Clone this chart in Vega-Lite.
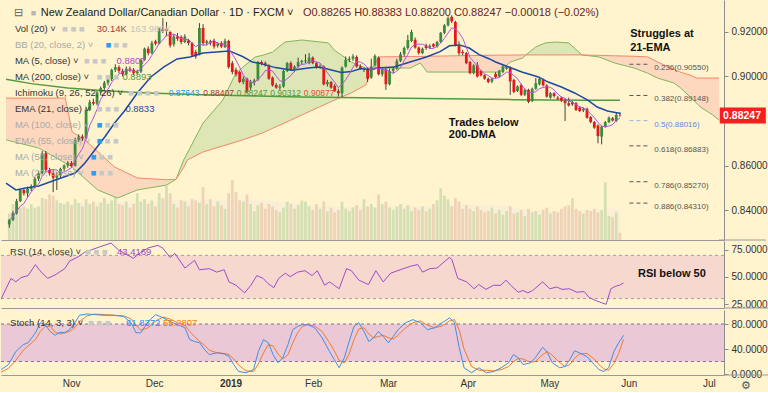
{
"$schema": "https://vega.github.io/schema/vega-lite/v6.json",
"background": "#fff4ce",
"padding": 0,
"spacing": 0,
"config": {"view": {"stroke": null}, "font": "Liberation Sans", "axis": {"grid": false, "labelOverlap": false, "labelBound": false}},
"datasets": {
"bars": [
{"i":-18,"o":0.8335,"h":0.8360,"l":0.8320,"c":0.8355,"v":110},
{"i":-17,"o":0.8355,"h":0.8395,"l":0.8350,"c":0.8385,"v":150},
{"i":-16,"o":0.8385,"h":0.8450,"l":0.8380,"c":0.8440,"v":120},
{"i":-15,"o":0.8440,"h":0.8495,"l":0.8435,"c":0.8490,"v":135},
{"i":-14,"o":0.8490,"h":0.8500,"l":0.8465,"c":0.8475,"v":140},
{"i":-13,"o":0.8475,"h":0.8505,"l":0.8455,"c":0.8495,"v":130},
{"i":-12,"o":0.8495,"h":0.8515,"l":0.8485,"c":0.8505,"v":150},
{"i":-11,"o":0.8505,"h":0.8550,"l":0.8500,"c":0.8540,"v":135},
{"i":-10,"o":0.8540,"h":0.8575,"l":0.8530,"c":0.8565,"v":140},
{"i":-9,"o":0.8565,"h":0.8665,"l":0.8560,"c":0.8655,"v":175},
{"i":-8,"o":0.8655,"h":0.8665,"l":0.8570,"c":0.8580,"v":170},
{"i":-7,"o":0.8580,"h":0.8590,"l":0.8555,"c":0.8565,"v":190},
{"i":-6,"o":0.8565,"h":0.8580,"l":0.8480,"c":0.8545,"v":185},
{"i":-5,"o":0.8545,"h":0.8570,"l":0.8490,"c":0.8555,"v":165},
{"i":-4,"o":0.8555,"h":0.8590,"l":0.8545,"c":0.8585,"v":155},
{"i":-3,"o":0.8585,"h":0.8605,"l":0.8575,"c":0.8600,"v":150},
{"i":-2,"o":0.8600,"h":0.8620,"l":0.8590,"c":0.8612,"v":160},
{"i":-1,"o":0.8612,"h":0.8620,"l":0.8590,"c":0.8598,"v":145},
{"i":0,"o":0.8598,"h":0.8725,"l":0.8595,"c":0.8715,"v":170},
{"i":1,"o":0.8715,"h":0.8740,"l":0.8705,"c":0.8730,"v":155},
{"i":2,"o":0.8730,"h":0.8740,"l":0.8710,"c":0.8722,"v":140},
{"i":3,"o":0.8722,"h":0.8860,"l":0.8718,"c":0.8850,"v":170},
{"i":4,"o":0.8850,"h":0.8895,"l":0.8845,"c":0.8885,"v":150},
{"i":5,"o":0.8885,"h":0.8900,"l":0.8870,"c":0.8878,"v":160},
{"i":6,"o":0.8878,"h":0.8935,"l":0.8870,"c":0.8928,"v":140},
{"i":7,"o":0.8928,"h":0.8955,"l":0.8915,"c":0.8948,"v":155},
{"i":8,"o":0.8948,"h":0.8980,"l":0.8940,"c":0.8972,"v":175},
{"i":9,"o":0.8972,"h":0.8995,"l":0.8960,"c":0.8988,"v":150},
{"i":10,"o":0.8988,"h":0.9035,"l":0.8980,"c":0.9030,"v":165},
{"i":11,"o":0.9030,"h":0.9055,"l":0.9020,"c":0.9042,"v":195},
{"i":12,"o":0.9042,"h":0.9050,"l":0.9015,"c":0.9025,"v":150},
{"i":13,"o":0.9025,"h":0.9035,"l":0.9000,"c":0.9010,"v":145},
{"i":14,"o":0.9010,"h":0.9045,"l":0.9005,"c":0.9035,"v":160},
{"i":15,"o":0.9035,"h":0.9045,"l":0.9020,"c":0.9030,"v":135},
{"i":16,"o":0.9030,"h":0.9038,"l":0.9005,"c":0.9015,"v":150},
{"i":17,"o":0.9015,"h":0.9030,"l":0.9008,"c":0.9022,"v":195},
{"i":18,"o":0.9022,"h":0.9080,"l":0.9015,"c":0.9075,"v":160},
{"i":19,"o":0.9075,"h":0.9130,"l":0.9070,"c":0.9125,"v":170},
{"i":20,"o":0.9125,"h":0.9135,"l":0.9095,"c":0.9105,"v":150},
{"i":21,"o":0.9105,"h":0.9160,"l":0.9100,"c":0.9150,"v":165},
{"i":22,"o":0.9158,"h":0.9165,"l":0.9140,"c":0.9148,"v":140},
{"i":23,"o":0.9148,"h":0.9220,"l":0.9145,"c":0.9215,"v":195},
{"i":24,"o":0.9215,"h":0.9262,"l":0.9195,"c":0.9205,"v":175},
{"i":25,"o":0.9205,"h":0.9245,"l":0.9180,"c":0.9212,"v":225},
{"i":26,"o":0.9200,"h":0.9205,"l":0.9130,"c":0.9140,"v":195},
{"i":27,"o":0.9145,"h":0.9190,"l":0.9135,"c":0.9180,"v":150},
{"i":28,"o":0.9180,"h":0.9195,"l":0.9160,"c":0.9170,"v":135},
{"i":29,"o":0.9178,"h":0.9185,"l":0.9145,"c":0.9155,"v":165},
{"i":30,"o":0.9155,"h":0.9190,"l":0.9150,"c":0.9180,"v":160},
{"i":31,"o":0.9162,"h":0.9170,"l":0.9140,"c":0.9150,"v":140},
{"i":32,"o":0.9150,"h":0.9155,"l":0.9090,"c":0.9095,"v":170},
{"i":33,"o":0.9110,"h":0.9120,"l":0.9080,"c":0.9090,"v":165},
{"i":34,"o":0.9100,"h":0.9240,"l":0.9095,"c":0.9218,"v":155},
{"i":35,"o":0.9218,"h":0.9235,"l":0.9140,"c":0.9150,"v":220},
{"i":36,"o":0.9150,"h":0.9165,"l":0.9140,"c":0.9158,"v":150},
{"i":37,"o":0.9158,"h":0.9165,"l":0.9140,"c":0.9150,"v":170},
{"i":38,"o":0.9160,"h":0.9170,"l":0.9125,"c":0.9135,"v":140},
{"i":39,"o":0.9138,"h":0.9155,"l":0.9130,"c":0.9148,"v":160},
{"i":40,"o":0.9150,"h":0.9158,"l":0.9128,"c":0.9135,"v":145},
{"i":41,"o":0.9132,"h":0.9170,"l":0.9128,"c":0.9160,"v":130},
{"i":42,"o":0.9160,"h":0.9165,"l":0.9035,"c":0.9042,"v":195},
{"i":43,"o":0.9060,"h":0.9070,"l":0.9010,"c":0.9020,"v":250},
{"i":44,"o":0.9030,"h":0.9040,"l":0.9000,"c":0.9010,"v":200},
{"i":45,"o":0.9020,"h":0.9025,"l":0.8970,"c":0.8975,"v":165},
{"i":46,"o":0.8975,"h":0.9000,"l":0.8965,"c":0.8990,"v":160},
{"i":47,"o":0.8990,"h":0.8995,"l":0.8925,"c":0.8930,"v":190},
{"i":48,"o":0.8950,"h":0.8985,"l":0.8940,"c":0.8975,"v":150},
{"i":49,"o":0.8975,"h":0.8990,"l":0.8960,"c":0.8982,"v":120},
{"i":50,"o":0.8985,"h":0.9070,"l":0.8980,"c":0.9065,"v":145},
{"i":51,"o":0.9065,"h":0.9072,"l":0.9050,"c":0.9058,"v":155},
{"i":52,"o":0.9060,"h":0.9068,"l":0.9045,"c":0.9050,"v":130},
{"i":53,"o":0.9048,"h":0.9055,"l":0.8985,"c":0.8990,"v":150},
{"i":54,"o":0.8995,"h":0.9000,"l":0.8955,"c":0.8960,"v":140},
{"i":55,"o":0.8962,"h":0.8970,"l":0.8945,"c":0.8950,"v":125},
{"i":56,"o":0.8950,"h":0.8965,"l":0.8940,"c":0.8955,"v":115},
{"i":57,"o":0.8955,"h":0.9030,"l":0.8950,"c":0.9025,"v":135},
{"i":58,"o":0.9025,"h":0.9065,"l":0.9020,"c":0.9060,"v":160},
{"i":59,"o":0.9060,"h":0.9068,"l":0.9025,"c":0.9030,"v":150},
{"i":60,"o":0.9028,"h":0.9050,"l":0.9020,"c":0.9045,"v":130},
{"i":61,"o":0.9045,"h":0.9085,"l":0.9040,"c":0.9065,"v":145},
{"i":62,"o":0.9065,"h":0.9075,"l":0.9055,"c":0.9070,"v":165},
{"i":63,"o":0.9068,"h":0.9100,"l":0.9060,"c":0.9072,"v":160},
{"i":64,"o":0.9060,"h":0.9105,"l":0.9055,"c":0.9085,"v":140},
{"i":65,"o":0.9085,"h":0.9090,"l":0.9055,"c":0.9060,"v":125},
{"i":66,"o":0.9060,"h":0.9065,"l":0.9035,"c":0.9040,"v":150},
{"i":67,"o":0.9040,"h":0.9055,"l":0.9035,"c":0.9045,"v":130},
{"i":68,"o":0.9045,"h":0.9050,"l":0.8960,"c":0.8965,"v":160},
{"i":69,"o":0.8965,"h":0.8985,"l":0.8955,"c":0.8975,"v":120},
{"i":70,"o":0.8975,"h":0.8980,"l":0.8945,"c":0.8950,"v":135},
{"i":71,"o":0.8958,"h":0.8965,"l":0.8930,"c":0.8935,"v":115},
{"i":72,"o":0.8935,"h":0.8945,"l":0.8910,"c":0.8925,"v":125},
{"i":73,"o":0.8925,"h":0.9045,"l":0.8908,"c":0.9040,"v":160},
{"i":74,"o":0.9045,"h":0.9090,"l":0.9040,"c":0.9075,"v":130},
{"i":75,"o":0.9075,"h":0.9090,"l":0.9065,"c":0.9080,"v":120},
{"i":76,"o":0.9080,"h":0.9100,"l":0.9070,"c":0.9090,"v":135},
{"i":77,"o":0.9088,"h":0.9095,"l":0.9040,"c":0.9045,"v":145},
{"i":78,"o":0.9045,"h":0.9055,"l":0.9030,"c":0.9035,"v":125},
{"i":79,"o":0.9030,"h":0.9040,"l":0.9020,"c":0.9032,"v":170},
{"i":80,"o":0.9030,"h":0.9040,"l":0.8975,"c":0.8990,"v":140},
{"i":81,"o":0.8995,"h":0.9080,"l":0.8990,"c":0.9045,"v":150},
{"i":82,"o":0.9050,"h":0.9100,"l":0.9045,"c":0.9092,"v":135},
{"i":83,"o":0.9085,"h":0.9090,"l":0.9005,"c":0.9010,"v":190},
{"i":84,"o":0.9010,"h":0.9040,"l":0.9000,"c":0.9032,"v":150},
{"i":85,"o":0.9032,"h":0.9040,"l":0.8940,"c":0.8965,"v":160},
{"i":86,"o":0.8965,"h":0.9035,"l":0.8960,"c":0.9025,"v":135},
{"i":87,"o":0.9025,"h":0.9045,"l":0.9015,"c":0.9035,"v":125},
{"i":88,"o":0.9035,"h":0.9080,"l":0.9030,"c":0.9070,"v":140},
{"i":89,"o":0.9070,"h":0.9110,"l":0.9065,"c":0.9100,"v":150},
{"i":90,"o":0.9100,"h":0.9135,"l":0.9090,"c":0.9128,"v":130},
{"i":91,"o":0.9128,"h":0.9187,"l":0.9120,"c":0.9164,"v":145},
{"i":92,"o":0.9160,"h":0.9210,"l":0.9155,"c":0.9200,"v":120},
{"i":93,"o":0.9165,"h":0.9175,"l":0.9125,"c":0.9130,"v":135},
{"i":94,"o":0.9130,"h":0.9135,"l":0.9098,"c":0.9105,"v":125},
{"i":95,"o":0.9105,"h":0.9130,"l":0.9100,"c":0.9125,"v":140},
{"i":96,"o":0.9140,"h":0.9148,"l":0.9120,"c":0.9128,"v":120},
{"i":97,"o":0.9130,"h":0.9145,"l":0.9125,"c":0.9138,"v":130},
{"i":98,"o":0.9145,"h":0.9150,"l":0.9130,"c":0.9135,"v":150},
{"i":99,"o":0.9135,"h":0.9160,"l":0.9130,"c":0.9155,"v":165},
{"i":100,"o":0.9155,"h":0.9200,"l":0.9150,"c":0.9196,"v":215},
{"i":101,"o":0.9196,"h":0.9235,"l":0.9190,"c":0.9230,"v":185},
{"i":102,"o":0.9230,"h":0.9270,"l":0.9225,"c":0.9262,"v":170},
{"i":103,"o":0.9268,"h":0.9275,"l":0.9240,"c":0.9248,"v":140},
{"i":104,"o":0.9245,"h":0.9250,"l":0.9135,"c":0.9140,"v":175},
{"i":105,"o":0.9140,"h":0.9158,"l":0.9095,"c":0.9105,"v":160},
{"i":106,"o":0.9110,"h":0.9120,"l":0.9095,"c":0.9105,"v":130},
{"i":107,"o":0.9105,"h":0.9110,"l":0.9055,"c":0.9060,"v":145},
{"i":108,"o":0.9065,"h":0.9070,"l":0.9010,"c":0.9015,"v":130},
{"i":109,"o":0.9015,"h":0.9055,"l":0.9010,"c":0.9050,"v":120},
{"i":110,"o":0.9050,"h":0.9065,"l":0.8995,"c":0.9000,"v":140},
{"i":111,"o":0.9025,"h":0.9030,"l":0.9000,"c":0.9005,"v":125},
{"i":112,"o":0.9005,"h":0.9010,"l":0.8985,"c":0.8990,"v":115},
{"i":113,"o":0.8990,"h":0.8995,"l":0.8970,"c":0.8975,"v":120},
{"i":114,"o":0.8978,"h":0.8995,"l":0.8970,"c":0.8990,"v":135},
{"i":115,"o":0.9012,"h":0.9020,"l":0.8990,"c":0.8998,"v":110},
{"i":116,"o":0.9000,"h":0.9030,"l":0.8995,"c":0.9025,"v":125},
{"i":117,"o":0.9020,"h":0.9050,"l":0.9015,"c":0.9045,"v":105},
{"i":118,"o":0.9035,"h":0.9048,"l":0.9030,"c":0.9042,"v":120},
{"i":119,"o":0.9038,"h":0.9045,"l":0.8917,"c":0.8978,"v":140},
{"i":120,"o":0.8984,"h":0.8990,"l":0.8925,"c":0.8930,"v":110},
{"i":121,"o":0.8935,"h":0.8960,"l":0.8930,"c":0.8955,"v":115},
{"i":122,"o":0.8962,"h":0.8968,"l":0.8912,"c":0.8918,"v":125},
{"i":123,"o":0.8918,"h":0.8945,"l":0.8912,"c":0.8940,"v":100},
{"i":124,"o":0.8940,"h":0.8945,"l":0.8880,"c":0.8886,"v":130},
{"i":125,"o":0.8890,"h":0.8950,"l":0.8885,"c":0.8945,"v":115},
{"i":126,"o":0.8945,"h":0.8993,"l":0.8940,"c":0.8970,"v":120},
{"i":127,"o":0.8965,"h":0.8998,"l":0.8960,"c":0.8990,"v":105},
{"i":128,"o":0.8985,"h":0.8990,"l":0.8955,"c":0.8960,"v":125},
{"i":129,"o":0.8960,"h":0.8965,"l":0.8905,"c":0.8910,"v":135},
{"i":130,"o":0.8905,"h":0.8930,"l":0.8900,"c":0.8925,"v":110},
{"i":131,"o":0.8925,"h":0.8930,"l":0.8905,"c":0.8912,"v":120},
{"i":132,"o":0.8905,"h":0.8912,"l":0.8895,"c":0.8900,"v":115},
{"i":133,"o":0.8905,"h":0.8910,"l":0.8885,"c":0.8892,"v":130},
{"i":134,"o":0.8892,"h":0.8900,"l":0.8800,"c":0.8880,"v":140},
{"i":135,"o":0.8880,"h":0.8905,"l":0.8865,"c":0.8870,"v":145},
{"i":136,"o":0.8885,"h":0.8890,"l":0.8868,"c":0.8875,"v":175},
{"i":137,"o":0.8880,"h":0.8885,"l":0.8845,"c":0.8850,"v":130},
{"i":138,"o":0.8860,"h":0.8865,"l":0.8840,"c":0.8845,"v":120},
{"i":139,"o":0.8848,"h":0.8860,"l":0.8840,"c":0.8855,"v":110},
{"i":140,"o":0.8855,"h":0.8860,"l":0.8810,"c":0.8815,"v":125},
{"i":141,"o":0.8818,"h":0.8822,"l":0.8790,"c":0.8795,"v":120},
{"i":142,"o":0.8795,"h":0.8800,"l":0.8765,"c":0.8770,"v":130},
{"i":143,"o":0.8780,"h":0.8785,"l":0.8700,"c":0.8732,"v":115},
{"i":144,"o":0.8730,"h":0.8780,"l":0.8695,"c":0.8775,"v":125},
{"i":145,"o":0.8775,"h":0.8800,"l":0.8770,"c":0.8795,"v":240},
{"i":146,"o":0.8795,"h":0.8820,"l":0.8790,"c":0.8815,"v":100},
{"i":147,"o":0.8812,"h":0.8818,"l":0.8798,"c":0.8802,"v":95},
{"i":148,"o":0.8800,"h":0.8840,"l":0.8795,"c":0.88265,"v":115},
{"i":149,"o":0.88265,"h":0.88383,"l":0.88200,"c":0.88247,"v":30}
],
"cloud": [
{"i":-18.9,"a":0.8715,"b":0.8903,"seg":1,"kind":"bear"},
{"i":-10,"a":0.8679,"b":0.8903,"seg":1,"kind":"bear"},
{"i":-2.7,"a":0.8611,"b":0.8903,"seg":1,"kind":"bear"},
{"i":-0.8,"a":0.8593,"b":0.8751,"seg":1,"kind":"bear"},
{"i":2.7,"a":0.8541,"b":0.8715,"seg":1,"kind":"bear"},
{"i":6.2,"a":0.8490,"b":0.8662,"seg":1,"kind":"bear"},
{"i":10.8,"a":0.8459,"b":0.8593,"seg":1,"kind":"bear"},
{"i":11.6,"a":0.8454,"b":0.8587,"seg":1,"kind":"bear"},
{"i":17,"a":0.8490,"b":0.8544,"seg":1,"kind":"bear"},
{"i":25,"a":0.8512,"b":0.8536,"seg":1,"kind":"bear"},
{"i":27.6,"a":0.8538,"b":0.8538,"seg":1,"kind":"bear"},
{"i":27.6,"a":0.8538,"b":0.8538,"seg":2,"kind":"bull"},
{"i":29.7,"a":0.8625,"b":0.8591,"seg":2,"kind":"bull"},
{"i":30.7,"a":0.8656,"b":0.8625,"seg":2,"kind":"bull"},
{"i":35,"a":0.8791,"b":0.8661,"seg":2,"kind":"bull"},
{"i":40.4,"a":0.8894,"b":0.8688,"seg":2,"kind":"bull"},
{"i":44,"a":0.9016,"b":0.8706,"seg":2,"kind":"bull"},
{"i":45.8,"a":0.9041,"b":0.8715,"seg":2,"kind":"bull"},
{"i":49.3,"a":0.9088,"b":0.8735,"seg":2,"kind":"bull"},
{"i":51.2,"a":0.9095,"b":0.8746,"seg":2,"kind":"bull"},
{"i":54,"a":0.9110,"b":0.8767,"seg":2,"kind":"bull"},
{"i":57.4,"a":0.9155,"b":0.8792,"seg":2,"kind":"bull"},
{"i":62,"a":0.9164,"b":0.8827,"seg":2,"kind":"bull"},
{"i":69.3,"a":0.9151,"b":0.8882,"seg":2,"kind":"bull"},
{"i":70.9,"a":0.9118,"b":0.8894,"seg":2,"kind":"bull"},
{"i":72.8,"a":0.9097,"b":0.8907,"seg":2,"kind":"bull"},
{"i":75.5,"a":0.9065,"b":0.8926,"seg":2,"kind":"bull"},
{"i":79.5,"a":0.9038,"b":0.8962,"seg":2,"kind":"bull"},
{"i":81.4,"a":0.9038,"b":0.9038,"seg":2,"kind":"bull"},
{"i":81.4,"a":0.9038,"b":0.9038,"seg":3,"kind":"bear"},
{"i":83,"a":0.9038,"b":0.9088,"seg":3,"kind":"bear"},
{"i":91.7,"a":0.9038,"b":0.9090,"seg":3,"kind":"bear"},
{"i":94.4,"a":0.9061,"b":0.9090,"seg":3,"kind":"bear"},
{"i":96.3,"a":0.9020,"b":0.9091,"seg":3,"kind":"bear"},
{"i":116,"a":0.9020,"b":0.9096,"seg":3,"kind":"bear"},
{"i":119,"a":0.9065,"b":0.9096,"seg":3,"kind":"bear"},
{"i":122.4,"a":0.9083,"b":0.9097,"seg":3,"kind":"bear"},
{"i":123.3,"a":0.9097,"b":0.9097,"seg":3,"kind":"bear"},
{"i":123.3,"a":0.9097,"b":0.9097,"seg":4,"kind":"bull"},
{"i":126,"a":0.9133,"b":0.9097,"seg":4,"kind":"bull"},
{"i":128.6,"a":0.9151,"b":0.9097,"seg":4,"kind":"bull"},
{"i":131.3,"a":0.9155,"b":0.9097,"seg":4,"kind":"bull"},
{"i":135,"a":0.9151,"b":0.9097,"seg":4,"kind":"bull"},
{"i":138.6,"a":0.9097,"b":0.9097,"seg":4,"kind":"bull"},
{"i":138.6,"a":0.9097,"b":0.9097,"seg":5,"kind":"bear"},
{"i":143.2,"a":0.9088,"b":0.9095,"seg":5,"kind":"bear"},
{"i":147.5,"a":0.9061,"b":0.9093,"seg":5,"kind":"bear"},
{"i":152.9,"a":0.9038,"b":0.9091,"seg":5,"kind":"bear"},
{"i":156.6,"a":0.9015,"b":0.9088,"seg":5,"kind":"bear"},
{"i":159.3,"a":0.8993,"b":0.9065,"seg":5,"kind":"bear"},
{"i":163.7,"a":0.8971,"b":0.9033,"seg":5,"kind":"bear"},
{"i":165.5,"a":0.8950,"b":0.9020,"seg":5,"kind":"bear"},
{"i":168.2,"a":0.8908,"b":0.9006,"seg":5,"kind":"bear"},
{"i":170,"a":0.8880,"b":0.8993,"seg":5,"kind":"bear"},
{"i":171,"a":0.8863,"b":0.8993,"seg":5,"kind":"bear"},
{"i":174.4,"a":0.8827,"b":0.8993,"seg":5,"kind":"bear"},
{"i":176.1,"a":0.8804,"b":0.8993,"seg":5,"kind":"bear"}
],
"ema": [
{"i":-18.9,"v":0.8521},{"i":-16.2,"v":0.8490},{"i":-13.5,"v":0.8499},{"i":-9.9,"v":0.8508},{"i":-5.4,"v":0.8535},{"i":0,"v":0.8566},{"i":2.7,"v":0.8611},{"i":5.4,"v":0.8670},{"i":8.1,"v":0.8728},{"i":10.8,"v":0.8791},{"i":13.5,"v":0.8845},{"i":17,"v":0.8926},{"i":20.7,"v":0.8998},{"i":24.3,"v":0.9043},{"i":27.9,"v":0.9079},{"i":31.4,"v":0.9088},{"i":35,"v":0.9106},{"i":38.6,"v":0.9110},{"i":42.2,"v":0.9115},{"i":45.8,"v":0.9090},{"i":48.5,"v":0.9065},{"i":50.3,"v":0.9060},{"i":54.8,"v":0.9040},{"i":59.3,"v":0.9028},{"i":63.8,"v":0.9038},{"i":66.5,"v":0.9043},{"i":69,"v":0.9034},{"i":72.8,"v":0.9018},{"i":75.5,"v":0.9022},{"i":78.2,"v":0.9036},{"i":80.9,"v":0.9030},{"i":82.7,"v":0.9038},{"i":87.2,"v":0.9043},{"i":91.6,"v":0.9065},{"i":96.1,"v":0.9088},{"i":99.8,"v":0.9112},{"i":102.4,"v":0.9138},{"i":105.1,"v":0.9142},{"i":107.8,"v":0.9128},{"i":110.5,"v":0.9098},{"i":113.2,"v":0.9080},{"i":115,"v":0.9065},{"i":118.6,"v":0.9043},{"i":122.2,"v":0.9020},{"i":126.7,"v":0.8998},{"i":129.4,"v":0.8975},{"i":133,"v":0.8953},{"i":136.6,"v":0.8926},{"i":140.2,"v":0.8894},{"i":142.8,"v":0.8863},{"i":145.6,"v":0.8845},{"i":149.2,"v":0.8834}
],
"ma200": [
{"i":-18.9,"v":0.8988},{"i":-12,"v":0.8968},{"i":-2,"v":0.8948},{"i":8,"v":0.8936},{"i":20,"v":0.8926},{"i":35,"v":0.8918},{"i":50,"v":0.8912},{"i":62,"v":0.8908},{"i":84,"v":0.8903},{"i":102,"v":0.8900},{"i":120,"v":0.8896},{"i":140,"v":0.8893},{"i":149,"v":0.8893}
],
"rsi": [
{"i":-18.9,"v":29.5},{"i":-16.2,"v":48.7},{"i":-14.9,"v":45.5},{"i":-13.5,"v":49.4},{"i":-11.6,"v":51.3},{"i":-9.6,"v":61.5},{"i":-8.4,"v":55.8},{"i":-6.3,"v":48.7},{"i":-4.3,"v":51.9},{"i":-1.7,"v":57.7},{"i":-0.4,"v":64.7},{"i":1.6,"v":68},{"i":3.6,"v":72.8},{"i":7.5,"v":77.6},{"i":10.8,"v":81.4},{"i":12.8,"v":75},{"i":14.8,"v":71.2},{"i":16.8,"v":67.3},{"i":18.8,"v":72.8},{"i":20.8,"v":76.9},{"i":23.4,"v":79.2},{"i":24.7,"v":76.9},{"i":26.7,"v":68},{"i":28,"v":71.8},{"i":30.7,"v":58.3},{"i":33.3,"v":65.4},{"i":34.6,"v":56.7},{"i":37.3,"v":57.7},{"i":39.3,"v":54.5},{"i":41.3,"v":56.7},{"i":42.6,"v":45.5},{"i":44.5,"v":42.3},{"i":46.8,"v":35.3},{"i":48.5,"v":42.3},{"i":50.1,"v":51.3},{"i":51.8,"v":48.7},{"i":53.1,"v":43.9},{"i":54.7,"v":40.1},{"i":56,"v":48.7},{"i":57.8,"v":53.5},{"i":59.1,"v":50.3},{"i":61.1,"v":54.5},{"i":63.1,"v":55.8},{"i":65,"v":51.3},{"i":66.4,"v":55.8},{"i":68.4,"v":42.3},{"i":69.7,"v":45.5},{"i":71,"v":42.3},{"i":72.3,"v":39.1},{"i":74.3,"v":57.7},{"i":75.6,"v":55.8},{"i":77.6,"v":47.1},{"i":80.2,"v":43},{"i":82.2,"v":55.8},{"i":84.2,"v":45.5},{"i":86.2,"v":53.5},{"i":88.8,"v":56.7},{"i":91.5,"v":59.9},{"i":93.5,"v":61.5},{"i":94.8,"v":54.5},{"i":96.8,"v":57.7},{"i":98.7,"v":58.3},{"i":102,"v":68},{"i":102.7,"v":66.3},{"i":104.3,"v":48.7},{"i":106.7,"v":45.5},{"i":108.7,"v":39.1},{"i":110,"v":43},{"i":111.9,"v":38.5},{"i":113.9,"v":42.3},{"i":115.9,"v":42.3},{"i":117.3,"v":47.1},{"i":118.6,"v":42.3},{"i":120.6,"v":35.9},{"i":121.9,"v":37.5},{"i":123.2,"v":35.3},{"i":124.5,"v":37.5},{"i":127.2,"v":45.5},{"i":129.1,"v":39.1},{"i":131,"v":40.7},{"i":132.4,"v":38.5},{"i":134.4,"v":39.1},{"i":136.4,"v":35.9},{"i":138.4,"v":36.5},{"i":139.7,"v":31.1},{"i":141.7,"v":27.9},{"i":143,"v":26.3},{"i":144.3,"v":24.7},{"i":145.6,"v":39.1},{"i":147,"v":41.7},{"i":147.9,"v":42.3},{"i":149,"v":44.5}
],
"stoch": [
{"i":-18.9,"k":7,"d":3},{"i":-16.9,"k":15,"d":9},{"i":-14.9,"k":36,"d":22},{"i":-12.9,"k":47,"d":38},{"i":-11.6,"k":50,"d":45},{"i":-9.6,"k":66,"d":55},{"i":-8.3,"k":82,"d":68},{"i":-7,"k":79,"d":76},{"i":-5.6,"k":68,"d":76},{"i":-4.3,"k":62,"d":67},{"i":-3,"k":67,"d":64},{"i":-1.7,"k":66,"d":66},{"i":-0.4,"k":71,"d":68},{"i":1,"k":82,"d":74},{"i":2.3,"k":94,"d":84},{"i":4.3,"k":96,"d":93},{"i":6.3,"k":95,"d":96},{"i":8.9,"k":94,"d":95},{"i":11.5,"k":94,"d":94},{"i":14.2,"k":92,"d":93},{"i":16.2,"k":82,"d":88},{"i":17.5,"k":66,"d":78},{"i":18.8,"k":66,"d":70},{"i":20.8,"k":84,"d":74},{"i":22.8,"k":95,"d":85},{"i":24.8,"k":90,"d":91},{"i":26.7,"k":84,"d":88},{"i":28.7,"k":79,"d":82},{"i":30.7,"k":74,"d":78},{"i":32,"k":55,"d":68},{"i":33.3,"k":52,"d":60},{"i":34.7,"k":50,"d":52},{"i":36,"k":39,"d":46},{"i":37.3,"k":31,"d":38},{"i":39.3,"k":34,"d":34},{"i":41.3,"k":32,"d":33},{"i":42.6,"k":28,"d":31},{"i":43.9,"k":15,"d":24},{"i":45.2,"k":4,"d":14},{"i":47.2,"k":2,"d":5},{"i":49.2,"k":7,"d":4},{"i":50.5,"k":36,"d":16},{"i":51.9,"k":55,"d":34},{"i":53.2,"k":50,"d":47},{"i":54.5,"k":31,"d":45},{"i":55.8,"k":18,"d":32},{"i":57.1,"k":26,"d":24},{"i":58.5,"k":47,"d":31},{"i":59.8,"k":71,"d":50},{"i":61.1,"k":76,"d":66},{"i":62.4,"k":79,"d":76},{"i":63.8,"k":79,"d":79},{"i":65.7,"k":74,"d":77},{"i":67.7,"k":58,"d":68},{"i":69.7,"k":36,"d":50},{"i":71,"k":23,"d":37},{"i":72.3,"k":10,"d":22},{"i":73.7,"k":26,"d":18},{"i":75,"k":52,"d":32},{"i":76.3,"k":76,"d":55},{"i":77.6,"k":82,"d":72},{"i":79,"k":68,"d":74},{"i":80.3,"k":52,"d":64},{"i":81.6,"k":58,"d":58},{"i":82.9,"k":68,"d":60},{"i":84.2,"k":60,"d":62},{"i":85.6,"k":50,"d":58},{"i":86.9,"k":60,"d":56},{"i":88.2,"k":71,"d":62},{"i":90.2,"k":82,"d":74},{"i":92.2,"k":87,"d":82},{"i":94.2,"k":82,"d":85},{"i":96.1,"k":71,"d":78},{"i":98.1,"k":74,"d":74},{"i":100.1,"k":82,"d":77},{"i":102.1,"k":90,"d":85},{"i":103.4,"k":82,"d":87},{"i":104.7,"k":42,"d":70},{"i":106,"k":10,"d":40},{"i":108,"k":2,"d":12},{"i":110,"k":10,"d":6},{"i":112,"k":2,"d":6},{"i":114,"k":4,"d":5},{"i":116,"k":10,"d":7},{"i":118,"k":18,"d":12},{"i":119.3,"k":31,"d":20},{"i":120.6,"k":26,"d":25},{"i":121.9,"k":15,"d":24},{"i":123.9,"k":18,"d":19},{"i":125.2,"k":26,"d":20},{"i":127.2,"k":43,"d":31},{"i":128.5,"k":34,"d":36},{"i":129.8,"k":18,"d":30},{"i":131.8,"k":10,"d":18},{"i":133.2,"k":12,"d":12},{"i":134.5,"k":23,"d":15},{"i":135.8,"k":37,"d":25},{"i":137.1,"k":34,"d":32},{"i":139.1,"k":28,"d":33},{"i":141.1,"k":15,"d":24},{"i":142.4,"k":7,"d":15},{"i":143.7,"k":4,"d":8},{"i":145,"k":10,"d":6},{"i":146.4,"k":36,"d":17},{"i":147.7,"k":50,"d":33},{"i":149,"k":61.8,"d":55.3}
],
"fib": [
{"p":0.90550,"lab":"0.236(0.90550)","b":0},
{"p":0.89148,"lab":"0.382(0.89148)","b":0},
{"p":0.88016,"lab":"0.5(0.88016)","b":1},
{"p":0.86883,"lab":"0.618(0.86883)","b":0},
{"p":0.85270,"lab":"0.786(0.85270)","b":0},
{"p":0.84310,"lab":"0.886(0.84310)","b":0}
]
},
"vconcat": [
{
"width": 723, "height": 240,
"resolve": {"scale": {"y": "independent"}},
"layer": [
{
"data": {"name": "bars"},
"transform": [{"window": [{"op": "mean", "field": "v", "as": "vma"}], "frame": [-19, 0], "sort": [{"field": "i"}]}],
"layer": [
{"mark": {"type": "area", "color": "#f9eed6", "clip": true},
"encoding": {
"x": {"field": "i", "type": "quantitative", "scale": {"domain": [-18.9, 176.1], "nice": false, "zero": false}, "axis": {"labels": false, "ticks": false, "domain": true, "domainColor": "#9a9a9a", "grid": false, "title": null}},
"y": {"field": "vma", "type": "quantitative", "scale": {"domain": [0, 1000], "nice": false}, "axis": null}}},
{"mark": {"type": "bar", "size": 2.8, "clip": true},
"encoding": {
"x": {"field": "i", "type": "quantitative", "scale": {"domain": [-18.9, 176.1], "nice": false, "zero": false}},
"y": {"field": "v", "type": "quantitative", "scale": {"domain": [0, 1000], "nice": false}, "axis": null},
"color": {"condition": {"test": "datum.c >= datum.o", "value": "#d4e0b1"}, "value": "#efd3b6"}}}
]
},
{
"data": {"values": [{}]},
"layer": [
{"data": {"name": "cloud"}, "mark": {"type": "area", "clip": true},
"encoding": {
"x": {"field": "i", "type": "quantitative", "scale": {"domain": [-18.9, 176.1], "nice": false, "zero": false}},
"y": {"field": "a", "type": "quantitative", "scale": {"domain": [0.82652, 0.93438], "nice": false, "zero": false}, "axis": {"orient": "right", "values": [0.84, 0.86, 0.9, 0.92], "tickCount": 10, "format": ".5f", "title": null, "grid": false, "tickSize": 4, "labelPadding": 3, "labelFontSize": 10, "labelColor": "#333333", "labelOverlap": false, "domain": true, "domainColor": "#8c8c8c", "ticks": true, "tickColor": "#8c8c8c", "labels": true}},
"y2": {"field": "b"},
"detail": {"field": "seg", "type": "nominal"},
"color": {"condition": {"test": "datum.kind == 'bull'", "value": "#dde6b4"}, "value": "#fdd8be"}}},
{"data": {"name": "cloud"}, "mark": {"type": "line", "color": "#80b65e", "strokeWidth": 1, "clip": true},
"encoding": {
"x": {"field": "i", "type": "quantitative", "scale": {"domain": [-18.9, 176.1], "nice": false, "zero": false}},
"y": {"field": "a", "type": "quantitative", "scale": {"domain": [0.82652, 0.93438], "nice": false, "zero": false}}}},
{"data": {"name": "cloud"}, "mark": {"type": "line", "color": "#f3866c", "strokeWidth": 1, "clip": true},
"encoding": {
"x": {"field": "i", "type": "quantitative", "scale": {"domain": [-18.9, 176.1], "nice": false, "zero": false}},
"y": {"field": "b", "type": "quantitative", "scale": {"domain": [0.82652, 0.93438], "nice": false, "zero": false}}}},
{"data": {"name": "ma200"}, "mark": {"type": "line", "color": "#4f9b3f", "strokeWidth": 1.5, "clip": true},
"encoding": {
"x": {"field": "i", "type": "quantitative", "scale": {"domain": [-18.9, 176.1], "nice": false, "zero": false}},
"y": {"field": "v", "type": "quantitative", "scale": {"domain": [0.82652, 0.93438], "nice": false, "zero": false}}}},
{"data": {"name": "bars"}, "mark": {"type": "rule", "color": "#404040", "strokeWidth": 1, "clip": true},
"encoding": {
"x": {"field": "i", "type": "quantitative", "scale": {"domain": [-18.9, 176.1], "nice": false, "zero": false}},
"y": {"field": "l", "type": "quantitative", "scale": {"domain": [0.82652, 0.93438], "nice": false, "zero": false}},
"y2": {"field": "h"}}},
{"data": {"name": "bars"}, "mark": {"type": "bar", "size": 2.8, "clip": true},
"encoding": {
"x": {"field": "i", "type": "quantitative", "scale": {"domain": [-18.9, 176.1], "nice": false, "zero": false}},
"y": {"field": "o", "type": "quantitative", "scale": {"domain": [0.82652, 0.93438], "nice": false, "zero": false}},
"y2": {"field": "c"},
"color": {"condition": {"test": "datum.c >= datum.o", "value": "#3a8d3a"}, "value": "#e8171b"}}},
{"data": {"name": "ema"}, "mark": {"type": "line", "color": "#1f48a5", "strokeWidth": 1.5, "clip": true},
"encoding": {
"x": {"field": "i", "type": "quantitative", "scale": {"domain": [-18.9, 176.1], "nice": false, "zero": false}},
"y": {"field": "v", "type": "quantitative", "scale": {"domain": [0.82652, 0.93438], "nice": false, "zero": false}}}},
{"data": {"name": "bars"},
"transform": [{"window": [{"op": "mean", "field": "c", "as": "ma5"}], "frame": [-4, 0], "sort": [{"field": "i"}]}],
"mark": {"type": "line", "color": "#b452e0", "strokeWidth": 1, "clip": true},
"encoding": {
"x": {"field": "i", "type": "quantitative", "scale": {"domain": [-18.9, 176.1], "nice": false, "zero": false}},
"y": {"field": "ma5", "type": "quantitative", "scale": {"domain": [0.82652, 0.93438], "nice": false, "zero": false}}}},
{"data": {"name": "fib"}, "mark": {"type": "rule", "strokeDash": [4, 3], "strokeWidth": 1},
"encoding": {
"x": {"datum": 151.6, "type": "quantitative", "scale": {"domain": [-18.9, 176.1], "nice": false, "zero": false}},
"x2": {"datum": 157.2},
"y": {"field": "p", "type": "quantitative", "scale": {"domain": [0.82652, 0.93438], "nice": false, "zero": false}},
"color": {"condition": {"test": "datum.b == 1", "value": "#8fb5e6"}, "value": "#555555"}}},
{"data": {"name": "fib"}, "mark": {"type": "text", "align": "left", "baseline": "top", "fontSize": 8},
"encoding": {
"x": {"datum": 158.4, "type": "quantitative", "scale": {"domain": [-18.9, 176.1], "nice": false, "zero": false}},
"y": {"field": "p", "type": "quantitative", "scale": {"domain": [0.82652, 0.93438], "nice": false, "zero": false}},
"text": {"field": "lab"},
"color": {"condition": {"test": "datum.b == 1", "value": "#5b8fd6"}, "value": "#555555"}}},
{"mark": {"type": "rule", "color": "#9a9a9a", "strokeWidth": 1},
"encoding": {"x": {"datum": 176.1, "type": "quantitative"}, "x2": {"datum": 188.9}, "y": {"datum": 0.82652, "type": "quantitative"}}},
{"mark": {"type": "text", "text": "Struggles at", "align": "left", "baseline": "middle", "fontSize": 11, "fontWeight": "bold", "color": "#111111"},
"encoding": {"x": {"datum": 151.8, "type": "quantitative"}, "y": {"datum": 0.91888, "type": "quantitative"}}},
{"mark": {"type": "text", "text": "21-EMA", "align": "left", "baseline": "middle", "fontSize": 11, "fontWeight": "bold", "color": "#111111"},
"encoding": {"x": {"datum": 151.8, "type": "quantitative"}, "y": {"datum": 0.91303, "type": "quantitative"}}},
{"mark": {"type": "text", "text": "Trades below", "align": "left", "baseline": "middle", "fontSize": 11, "fontWeight": "bold", "color": "#111111"},
"encoding": {"x": {"datum": 102.2, "type": "quantitative"}, "y": {"datum": 0.87932, "type": "quantitative"}}},
{"mark": {"type": "text", "text": "200-DMA", "align": "left", "baseline": "middle", "fontSize": 11, "fontWeight": "bold", "color": "#111111"},
"encoding": {"x": {"datum": 102.2, "type": "quantitative"}, "y": {"datum": 0.87349, "type": "quantitative"}}},
{"mark": {"type": "text", "text": "⊟", "align": "left", "baseline": "middle", "fontSize": 11, "color": "#666666"},
"encoding": {"x": {"datum": -16.6, "type": "quantitative"}, "y": {"datum": 0.92854, "type": "quantitative"}}},
{"mark": {"type": "text", "text": "■", "align": "left", "baseline": "middle", "fontSize": 9, "color": "#b5b5b5"},
"encoding": {"x": {"datum": -12.1, "type": "quantitative"}, "y": {"datum": 0.92854, "type": "quantitative"}}},
{"mark": {"type": "text", "text": "New Zealand Dollar/Canadian Dollar · 1D · FXCM ˅", "align": "left", "baseline": "middle", "fontSize": 11, "color": "#222222"},
"encoding": {"x": {"datum": -9.4, "type": "quantitative"}, "y": {"datum": 0.92854, "type": "quantitative"}}},
{"mark": {"type": "text", "text": "O0.88265 H0.88383 L0.88200 C0.88247 −0.00018 (−0.02%)", "align": "left", "baseline": "middle", "fontSize": 11, "color": "#6a2525"},
"encoding": {"x": {"datum": 62.3, "type": "quantitative"}, "y": {"datum": 0.92854, "type": "quantitative"}}},
{"mark": {"type": "text", "text": "Vol (20) ˅", "align": "left", "baseline": "middle", "fontSize": 9.5, "color": "#333333"},
"encoding": {"x": {"datum": -16.45, "type": "quantitative"}, "y": {"datum": 0.92135, "type": "quantitative"}}},
{"mark": {"type": "text", "text": "BB (20, close, 2) ˅", "align": "left", "baseline": "middle", "fontSize": 9.5, "color": "#a8a8a8"},
"encoding": {"x": {"datum": -16.45, "type": "quantitative"}, "y": {"datum": 0.91416, "type": "quantitative"}}},
{"mark": {"type": "text", "text": "MA (5, close) ˅", "align": "left", "baseline": "middle", "fontSize": 9.5, "color": "#333333"},
"encoding": {"x": {"datum": -16.45, "type": "quantitative"}, "y": {"datum": 0.90696, "type": "quantitative"}}},
{"mark": {"type": "text", "text": "MA (200, close) ˅", "align": "left", "baseline": "middle", "fontSize": 9.5, "color": "#333333"},
"encoding": {"x": {"datum": -16.45, "type": "quantitative"}, "y": {"datum": 0.89977, "type": "quantitative"}}},
{"mark": {"type": "text", "text": "Ichimoku (9, 26, 52, 26) ˅", "align": "left", "baseline": "middle", "fontSize": 9.5, "color": "#333333"},
"encoding": {"x": {"datum": -16.45, "type": "quantitative"}, "y": {"datum": 0.89258, "type": "quantitative"}}},
{"mark": {"type": "text", "text": "EMA (21, close) ˅", "align": "left", "baseline": "middle", "fontSize": 9.5, "color": "#333333"},
"encoding": {"x": {"datum": -16.45, "type": "quantitative"}, "y": {"datum": 0.88539, "type": "quantitative"}}},
{"mark": {"type": "text", "text": "MA (100, close) ˅", "align": "left", "baseline": "middle", "fontSize": 9.5, "color": "#a8a8a8"},
"encoding": {"x": {"datum": -16.45, "type": "quantitative"}, "y": {"datum": 0.87820, "type": "quantitative"}}},
{"mark": {"type": "text", "text": "EMA (55, close) ˅", "align": "left", "baseline": "middle", "fontSize": 9.5, "color": "#a8a8a8"},
"encoding": {"x": {"datum": -16.45, "type": "quantitative"}, "y": {"datum": 0.87101, "type": "quantitative"}}},
{"mark": {"type": "text", "text": "MA (50, close) ˅", "align": "left", "baseline": "middle", "fontSize": 9.5, "color": "#a8a8a8"},
"encoding": {"x": {"datum": -16.45, "type": "quantitative"}, "y": {"datum": 0.86381, "type": "quantitative"}}},
{"mark": {"type": "text", "text": "MA (20, close) ˅", "align": "left", "baseline": "middle", "fontSize": 9.5, "color": "#a8a8a8"},
"encoding": {"x": {"datum": -16.45, "type": "quantitative"}, "y": {"datum": 0.85662, "type": "quantitative"}}},
{"mark": {"type": "text", "text": "■ ■ ■", "align": "left", "baseline": "middle", "fontSize": 9.5, "color": "#c8c8c8"},
"encoding": {"x": {"datum": -3.5, "type": "quantitative"}, "y": {"datum": 0.92135, "type": "quantitative"}}},
{"mark": {"type": "text", "text": "■", "align": "left", "baseline": "middle", "fontSize": 9.5, "color": "#2d9cf0"},
"encoding": {"x": {"datum": 8.36, "type": "quantitative"}, "y": {"datum": 0.91416, "type": "quantitative"}}},
{"mark": {"type": "text", "text": "■ ■", "align": "left", "baseline": "middle", "fontSize": 9.5, "color": "#c8c8c8"},
"encoding": {"x": {"datum": 10.5, "type": "quantitative"}, "y": {"datum": 0.91416, "type": "quantitative"}}},
{"mark": {"type": "text", "text": "■ ■ ■", "align": "left", "baseline": "middle", "fontSize": 9.5, "color": "#c8c8c8"},
"encoding": {"x": {"datum": 2.43, "type": "quantitative"}, "y": {"datum": 0.90696, "type": "quantitative"}}},
{"mark": {"type": "text", "text": "■ ■ ■", "align": "left", "baseline": "middle", "fontSize": 9.5, "color": "#c8c8c8"},
"encoding": {"x": {"datum": 5.93, "type": "quantitative"}, "y": {"datum": 0.89977, "type": "quantitative"}}},
{"mark": {"type": "text", "text": "■ ■ ■ ■", "align": "left", "baseline": "middle", "fontSize": 9.5, "color": "#c8c8c8"},
"encoding": {"x": {"datum": 14.56, "type": "quantitative"}, "y": {"datum": 0.89258, "type": "quantitative"}}},
{"mark": {"type": "text", "text": "■ ■ ■", "align": "left", "baseline": "middle", "fontSize": 9.5, "color": "#c8c8c8"},
"encoding": {"x": {"datum": 5.93, "type": "quantitative"}, "y": {"datum": 0.88539, "type": "quantitative"}}},
{"mark": {"type": "text", "text": "■", "align": "left", "baseline": "middle", "fontSize": 9.5, "color": "#2d9cf0"},
"encoding": {"x": {"datum": 5.93, "type": "quantitative"}, "y": {"datum": 0.87820, "type": "quantitative"}}},
{"mark": {"type": "text", "text": "■ ■", "align": "left", "baseline": "middle", "fontSize": 9.5, "color": "#c8c8c8"},
"encoding": {"x": {"datum": 8.09, "type": "quantitative"}, "y": {"datum": 0.87820, "type": "quantitative"}}},
{"mark": {"type": "text", "text": "■", "align": "left", "baseline": "middle", "fontSize": 9.5, "color": "#2d9cf0"},
"encoding": {"x": {"datum": 5.93, "type": "quantitative"}, "y": {"datum": 0.87101, "type": "quantitative"}}},
{"mark": {"type": "text", "text": "■ ■", "align": "left", "baseline": "middle", "fontSize": 9.5, "color": "#c8c8c8"},
"encoding": {"x": {"datum": 8.09, "type": "quantitative"}, "y": {"datum": 0.87101, "type": "quantitative"}}},
{"mark": {"type": "text", "text": "■", "align": "left", "baseline": "middle", "fontSize": 9.5, "color": "#2d9cf0"},
"encoding": {"x": {"datum": 4.3, "type": "quantitative"}, "y": {"datum": 0.86381, "type": "quantitative"}}},
{"mark": {"type": "text", "text": "■ ■", "align": "left", "baseline": "middle", "fontSize": 9.5, "color": "#c8c8c8"},
"encoding": {"x": {"datum": 6.47, "type": "quantitative"}, "y": {"datum": 0.86381, "type": "quantitative"}}},
{"mark": {"type": "text", "text": "■", "align": "left", "baseline": "middle", "fontSize": 9.5, "color": "#2d9cf0"},
"encoding": {"x": {"datum": 4.3, "type": "quantitative"}, "y": {"datum": 0.85662, "type": "quantitative"}}},
{"mark": {"type": "text", "text": "■ ■", "align": "left", "baseline": "middle", "fontSize": 9.5, "color": "#c8c8c8"},
"encoding": {"x": {"datum": 6.47, "type": "quantitative"}, "y": {"datum": 0.85662, "type": "quantitative"}}},
{"mark": {"type": "text", "text": "30.14K", "align": "left", "baseline": "middle", "fontSize": 9.5, "color": "#a33b3b"},
"encoding": {"x": {"datum": 5.93, "type": "quantitative"}, "y": {"datum": 0.92135, "type": "quantitative"}}},
{"mark": {"type": "text", "text": "163.989K", "align": "left", "baseline": "middle", "fontSize": 9.5, "color": "#c2c2c2"},
"encoding": {"x": {"datum": 15.1, "type": "quantitative"}, "y": {"datum": 0.92135, "type": "quantitative"}}},
{"mark": {"type": "text", "text": "0.8807", "align": "left", "baseline": "middle", "fontSize": 9.5, "color": "#b23fd6"},
"encoding": {"x": {"datum": 11.32, "type": "quantitative"}, "y": {"datum": 0.90696, "type": "quantitative"}}},
{"mark": {"type": "text", "text": "0.8893", "align": "left", "baseline": "middle", "fontSize": 9.5, "color": "#4c9a3c"},
"encoding": {"x": {"datum": 12.94, "type": "quantitative"}, "y": {"datum": 0.89977, "type": "quantitative"}}},
{"mark": {"type": "text", "text": "0.87643", "align": "left", "baseline": "middle", "fontSize": 8.5, "color": "#2196f3"},
"encoding": {"x": {"datum": 25.61, "type": "quantitative"}, "y": {"datum": 0.89258, "type": "quantitative"}}},
{"mark": {"type": "text", "text": "0.88407", "align": "left", "baseline": "middle", "fontSize": 8.5, "color": "#a83232"},
"encoding": {"x": {"datum": 35.05, "type": "quantitative"}, "y": {"datum": 0.89258, "type": "quantitative"}}},
{"mark": {"type": "text", "text": "0.88247", "align": "left", "baseline": "middle", "fontSize": 8.5, "color": "#4c9a3c"},
"encoding": {"x": {"datum": 44.22, "type": "quantitative"}, "y": {"datum": 0.89258, "type": "quantitative"}}},
{"mark": {"type": "text", "text": "0.90312", "align": "left", "baseline": "middle", "fontSize": 8.5, "color": "#4c9a3c"},
"encoding": {"x": {"datum": 53.38, "type": "quantitative"}, "y": {"datum": 0.89258, "type": "quantitative"}}},
{"mark": {"type": "text", "text": "0.90877", "align": "left", "baseline": "middle", "fontSize": 8.5, "color": "#e84a3a"},
"encoding": {"x": {"datum": 62.55, "type": "quantitative"}, "y": {"datum": 0.89258, "type": "quantitative"}}},
{"mark": {"type": "text", "text": "0.8833", "align": "left", "baseline": "middle", "fontSize": 9.5, "color": "#1d47a3"},
"encoding": {"x": {"datum": 13.75, "type": "quantitative"}, "y": {"datum": 0.88539, "type": "quantitative"}}},
{"mark": {"type": "rect", "color": "#f51f1f"},
"encoding": {"x": {"datum": 176.3, "type": "quantitative"}, "x2": {"datum": 188.9}, "y": {"datum": 0.88607, "type": "quantitative"}, "y2": {"datum": 0.87887}}},
{"mark": {"type": "text", "text": "0.88247", "align": "center", "baseline": "middle", "fontSize": 10.5, "fontWeight": "bold", "color": "#ffffff"},
"encoding": {"x": {"datum": 182.4, "type": "quantitative"}, "y": {"datum": 0.88247, "type": "quantitative"}}}
]
}
]
},
{
"width": 723, "height": 67,
"data": {"values": [{}]},
"layer": [
{"data": {"values": [{"lo": 30, "hi": 70}]}, "mark": {"type": "rect", "color": "#f6d8cf"},
"encoding": {
"x": {"datum": -18.9, "type": "quantitative", "scale": {"domain": [-18.9, 176.1], "nice": false, "zero": false}},
"x2": {"datum": 176.1},
"y": {"field": "lo", "type": "quantitative", "scale": {"domain": [21.3, 83.3], "nice": false, "zero": false}},
"y2": {"field": "hi"}}},
{"data": {"values": [{"lvl": 70}, {"lvl": 30}]}, "mark": {"type": "rule", "color": "#a0a0a0", "strokeDash": [3, 3], "strokeWidth": 1},
"encoding": {"y": {"field": "lvl", "type": "quantitative", "scale": {"domain": [21.3, 83.3], "nice": false, "zero": false}}}},
{"data": {"name": "rsi"}, "mark": {"type": "line", "color": "#9c4dca", "strokeWidth": 1, "clip": true},
"encoding": {
"x": {"field": "i", "type": "quantitative", "scale": {"domain": [-18.9, 176.1], "nice": false, "zero": false}, "axis": {"labels": false, "ticks": false, "domain": true, "domainColor": "#9a9a9a", "grid": false, "title": null}},
"y": {"field": "v", "type": "quantitative", "scale": {"domain": [21.3, 83.3], "nice": false, "zero": false}, "axis": {"orient": "right", "values": [25, 50, 75], "tickCount": 10, "format": ".4f", "title": null, "grid": false, "tickSize": 4, "labelPadding": 3, "labelFontSize": 10, "labelColor": "#333333", "labelOverlap": false, "domainColor": "#8c8c8c", "tickColor": "#8c8c8c"}}}},
{"mark": {"type": "rule", "color": "#9a9a9a", "strokeWidth": 1},
"encoding": {"x": {"datum": 176.1, "type": "quantitative"}, "x2": {"datum": 188.9}, "y": {"datum": 21.3, "type": "quantitative"}}},
{"mark": {"type": "text", "text": "RSI (14, close) ˅", "align": "left", "baseline": "middle", "fontSize": 9.5, "color": "#333333"},
"encoding": {"x": {"datum": -16.45, "type": "quantitative"}, "y": {"datum": 73.1, "type": "quantitative"}}},
{"mark": {"type": "text", "text": "■ ■ ■", "align": "left", "baseline": "middle", "fontSize": 9.5, "color": "#c8c8c8"},
"encoding": {"x": {"datum": 3.8, "type": "quantitative"}, "y": {"datum": 73.1, "type": "quantitative"}}},
{"mark": {"type": "text", "text": "43.4169", "align": "left", "baseline": "middle", "fontSize": 9.5, "color": "#9c45c0"},
"encoding": {"x": {"datum": 12.4, "type": "quantitative"}, "y": {"datum": 73.1, "type": "quantitative"}}},
{"mark": {"type": "text", "text": "RSI below 50", "align": "left", "baseline": "middle", "fontSize": 11, "fontWeight": "bold", "color": "#111111"},
"encoding": {"x": {"datum": 152.9, "type": "quantitative"}, "y": {"datum": 52.5, "type": "quantitative"}}}
]
},
{
"width": 723, "height": 65,
"data": {"values": [{}]},
"layer": [
{"data": {"values": [{"lo": 20, "hi": 80}]}, "mark": {"type": "rect", "color": "#eac8d6"},
"encoding": {
"x": {"datum": -18.9, "type": "quantitative", "scale": {"domain": [-18.9, 176.1], "nice": false, "zero": false},
"axis": {"values": [0, 22.4, 43, 65.3, 85.5, 107, 129, 150.4, 172], "tickCount": 20, "labelExpr": "datum.value == 0 ? 'Nov' : datum.value == 22.4 ? 'Dec' : datum.value == 43 ? '2019' : datum.value == 65.3 ? 'Feb' : datum.value == 85.5 ? 'Mar' : datum.value == 107 ? 'Apr' : datum.value == 129 ? 'May' : datum.value == 150.4 ? 'Jun' : 'Jul'", "ticks": false, "labels": true, "labelPadding": 3, "labelFontSize": 10, "labelColor": "#333333", "labelOverlap": false, "labelFontWeight": {"condition": {"test": "datum.value == 43", "value": "bold"}, "value": "normal"}, "domain": true, "domainColor": "#9a9a9a", "grid": false, "title": null}},
"x2": {"datum": 176.1},
"y": {"field": "lo", "type": "quantitative", "scale": {"domain": [-1.6, 102.4], "nice": false, "zero": false},
"axis": {"orient": "right", "values": [0, 40, 80], "tickCount": 10, "format": ".4f", "title": null, "grid": false, "tickSize": 4, "labelPadding": 3, "labelFontSize": 10, "labelColor": "#333333", "labelOverlap": false, "domainColor": "#8c8c8c", "tickColor": "#8c8c8c"}},
"y2": {"field": "hi"}}},
{"data": {"values": [{"lvl": 80}, {"lvl": 20}]}, "mark": {"type": "rule", "color": "#8e6c9c", "strokeDash": [3, 3], "strokeWidth": 1},
"encoding": {"y": {"field": "lvl", "type": "quantitative", "scale": {"domain": [-1.6, 102.4], "nice": false, "zero": false}}}},
{"data": {"name": "stoch"}, "mark": {"type": "line", "color": "#f07b30", "strokeWidth": 1, "clip": true},
"encoding": {
"x": {"field": "i", "type": "quantitative", "scale": {"domain": [-18.9, 176.1], "nice": false, "zero": false}},
"y": {"field": "d", "type": "quantitative", "scale": {"domain": [-1.6, 102.4], "nice": false, "zero": false}}}},
{"data": {"name": "stoch"}, "mark": {"type": "line", "color": "#3f8fe6", "strokeWidth": 1, "clip": true},
"encoding": {
"x": {"field": "i", "type": "quantitative", "scale": {"domain": [-18.9, 176.1], "nice": false, "zero": false}},
"y": {"field": "k", "type": "quantitative", "scale": {"domain": [-1.6, 102.4], "nice": false, "zero": false}}}},
{"mark": {"type": "rule", "color": "#9a9a9a", "strokeWidth": 1},
"encoding": {"x": {"datum": 176.1, "type": "quantitative"}, "x2": {"datum": 188.9}, "y": {"datum": -1.6, "type": "quantitative"}}},
{"mark": {"type": "text", "text": "Stoch (14, 3, 3) ˅", "align": "left", "baseline": "middle", "fontSize": 9.5, "color": "#333333"},
"encoding": {"x": {"datum": -16.45, "type": "quantitative"}, "y": {"datum": 81.6, "type": "quantitative"}}},
{"mark": {"type": "text", "text": "■ ■ ■", "align": "left", "baseline": "middle", "fontSize": 9.5, "color": "#c8c8c8"},
"encoding": {"x": {"datum": 4.6, "type": "quantitative"}, "y": {"datum": 81.6, "type": "quantitative"}}},
{"mark": {"type": "text", "text": "61.8372", "align": "left", "baseline": "middle", "fontSize": 9.5, "color": "#2196f3"},
"encoding": {"x": {"datum": 14.8, "type": "quantitative"}, "y": {"datum": 81.6, "type": "quantitative"}}},
{"mark": {"type": "text", "text": "55.2807", "align": "left", "baseline": "middle", "fontSize": 9.5, "color": "#f57c00"},
"encoding": {"x": {"datum": 24.8, "type": "quantitative"}, "y": {"datum": 81.6, "type": "quantitative"}}},
{"mark": {"type": "text", "text": "⚙", "align": "center", "baseline": "middle", "fontSize": 11, "color": "#555555"},
"encoding": {"x": {"datum": 182.0, "type": "quantitative"}, "y": {"datum": -19.5, "type": "quantitative"}}}
]
}
]
}
